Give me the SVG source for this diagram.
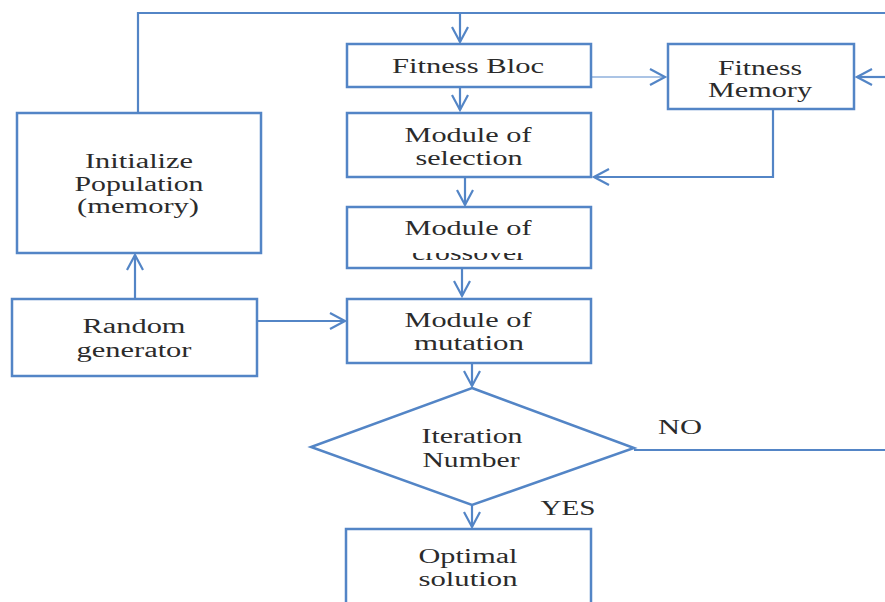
<svg xmlns="http://www.w3.org/2000/svg" width="885" height="602" viewBox="0 0 885 602">
<style>
.box{fill:#fff;stroke:#5385c6;stroke-width:2.5}
.ln{fill:none;stroke:#5385c6;stroke-width:2.2}
.thin{fill:none;stroke:#8fb0dc;stroke-width:1.5}
text{font-family:"Liberation Serif","Times New Roman",serif;font-size:20px;fill:#2b2b2b;text-anchor:middle}
</style>
<defs>
<marker id="ah" markerUnits="userSpaceOnUse" markerWidth="20" markerHeight="20" viewBox="-17 -10 19 20" refX="0" refY="0" orient="auto">
<path d="M-15,-8 L0,0 L-15,8" fill="none" stroke="#5385c6" stroke-width="2.2"/>
</marker>
<clipPath id="cx"><rect x="347" y="253" width="244" height="14"/></clipPath>
</defs>
<rect width="885" height="602" fill="#fff"/>
<g id="connectors">
<path class="ln" d="M138,112 V13 H885"/>
<path class="ln" d="M460,13 V42" marker-end="url(#ah)"/>
<path class="thin" d="M592,77 H665" marker-end="url(#ah)"/>
<path class="ln" d="M885,77 H857" marker-end="url(#ah)"/>
<path class="ln" d="M773,109 V177 H594" marker-end="url(#ah)"/>
<path class="ln" d="M460,88 V110" marker-end="url(#ah)"/>
<path class="ln" d="M465,178 V205" marker-end="url(#ah)"/>
<path class="ln" d="M462,268 V296" marker-end="url(#ah)"/>
<path class="ln" d="M135,298 V255" marker-end="url(#ah)"/>
<path class="ln" d="M257,321 H345" marker-end="url(#ah)"/>
<path class="ln" d="M472,364 V386" marker-end="url(#ah)"/>
<path class="ln" d="M634,450 H885"/>
<path class="ln" d="M472,505 V527" marker-end="url(#ah)"/>
</g>
<g id="fitness-bloc">
<rect class="box" x="347" y="44" width="244" height="43"/>
<text x="468" y="73" textLength="152" lengthAdjust="spacingAndGlyphs">Fitness Bloc</text>
</g>
<g id="fitness-memory">
<rect class="box" x="668" y="44" width="186" height="65"/>
<text x="760" y="75" textLength="84" lengthAdjust="spacingAndGlyphs">Fitness</text>
<text x="760" y="97" textLength="104" lengthAdjust="spacingAndGlyphs">Memory</text>
</g>
<g id="selection">
<rect class="box" x="347" y="113" width="244" height="64"/>
<text x="468" y="142" textLength="127" lengthAdjust="spacingAndGlyphs">Module of</text>
<text x="469" y="165" textLength="107" lengthAdjust="spacingAndGlyphs">selection</text>
</g>
<g id="crossover">
<rect class="box" x="347" y="207" width="244" height="61"/>
<text x="468" y="235" textLength="127" lengthAdjust="spacingAndGlyphs">Module of</text>
<text x="469" y="260" textLength="114" lengthAdjust="spacingAndGlyphs" clip-path="url(#cx)">crossover</text>
</g>
<g id="mutation">
<rect class="box" x="347" y="299" width="244" height="64"/>
<text x="468" y="327" textLength="127" lengthAdjust="spacingAndGlyphs">Module of</text>
<text x="469" y="350" textLength="110" lengthAdjust="spacingAndGlyphs">mutation</text>
</g>
<g id="initialize">
<rect class="box" x="17" y="113" width="244" height="140"/>
<text x="139" y="168" textLength="108" lengthAdjust="spacingAndGlyphs">Initialize</text>
<text x="139" y="191" textLength="129" lengthAdjust="spacingAndGlyphs">Population</text>
<text x="138" y="213" textLength="122" lengthAdjust="spacingAndGlyphs">(memory)</text>
</g>
<g id="random">
<rect class="box" x="12" y="299" width="245" height="77"/>
<text x="134" y="333" textLength="103" lengthAdjust="spacingAndGlyphs">Random</text>
<text x="134" y="357" textLength="115" lengthAdjust="spacingAndGlyphs">generator</text>
</g>
<g id="iteration">
<polygon class="box" points="472,388 634,448 472,505 311,447"/>
<text x="472" y="443" textLength="101" lengthAdjust="spacingAndGlyphs">Iteration</text>
<text x="471" y="467" textLength="97" lengthAdjust="spacingAndGlyphs">Number</text>
<text x="680" y="434" textLength="44" lengthAdjust="spacingAndGlyphs">NO</text>
<text x="568" y="515" textLength="55" lengthAdjust="spacingAndGlyphs">YES</text>
</g>
<g id="optimal">
<rect class="box" x="346" y="529" width="245" height="80"/>
<text x="468" y="563" textLength="99" lengthAdjust="spacingAndGlyphs">Optimal</text>
<text x="468" y="586" textLength="99" lengthAdjust="spacingAndGlyphs">solution</text>
</g>
</svg>
